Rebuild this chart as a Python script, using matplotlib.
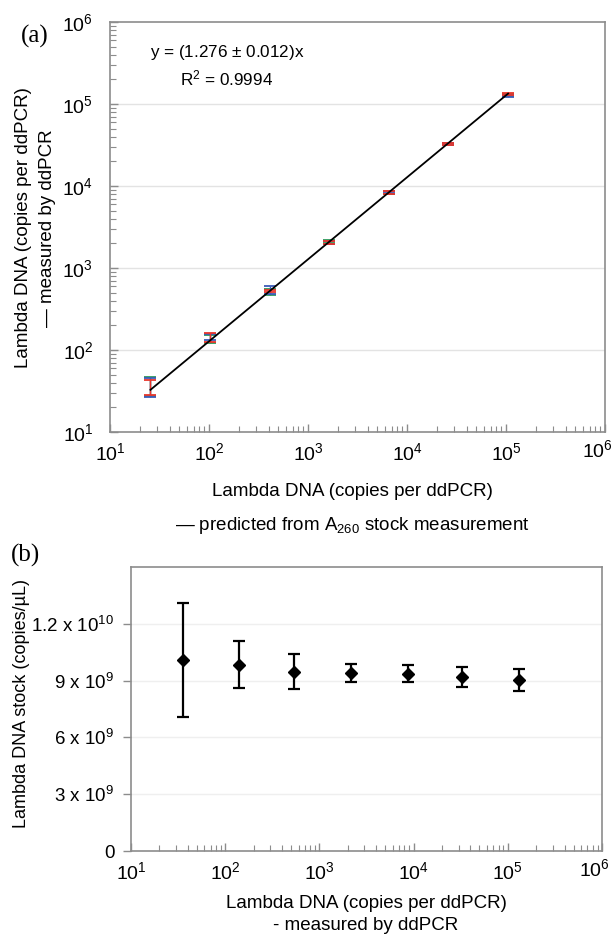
import numpy as np
import matplotlib
matplotlib.use("Agg")
import matplotlib.pyplot as plt
import matplotlib.transforms as mtrans
from matplotlib.ticker import LogLocator, NullFormatter, FixedLocator, FixedFormatter, FuncFormatter

plt.rcParams['font.family'] = ['Liberation Sans', 'DejaVu Sans']
plt.rcParams['mathtext.fontset'] = 'custom'
plt.rcParams['mathtext.rm'] = 'Liberation Sans'
plt.rcParams['mathtext.it'] = 'Liberation Sans:italic'

# ---------------- Panel (a) data ----------------
x_pred = np.array([25.6, 102.5, 410, 1640, 6560, 26250, 105000])
red_y = np.array([36, 142, 522, 2050, 8350, 32800, 131000])
red_err = np.array([7.5, 18, 18, 110, 250, 900, 4000])
green_y = np.array([37, 136, 517, 2080, 8350, 32600, 128000])
green_err = np.array([9.7, 15, 44, 90, 250, 1000, 4000])
blue_y = np.array([36, 144, 540, 2060, 8400, 32500, 126000])
blue_err = np.array([9.4, 12, 62, 90, 250, 900, 4000])
fit_slope = 1.276

# ---------------- Panel (b) data ----------------
x_meas = np.array([35.7, 141, 542, 2190, 8700, 33000, 131000])
stock = np.array([10.09e9, 9.83e9, 9.46e9, 9.40e9, 9.35e9, 9.19e9, 9.03e9])
stock_err = np.array([3.0e9, 1.24e9, 0.93e9, 0.50e9, 0.45e9, 0.55e9, 0.60e9])
b_yticks = [0, 3e9, 6e9, 9e9, 1.2e10]
b_yticklabels = ['0', r'3 x 10$^{9}$', r'6 x 10$^{9}$', r'9 x 10$^{9}$', r'1.2 x 10$^{10}$']

W, H = 615, 934
fig = plt.figure(figsize=(W/100, H/100), dpi=100)

spine_col = '#8c8c8c'

def fx(px):
    return px / W

def fy(py):
    return 1 - py / H

def dec_fmt(v, pos):
    e = int(round(np.log10(v)))
    if e >= 6:
        return ''
    return r'10$^{%d}$' % e

def last_xlabel(ax, pad_px, size):
    tr = mtrans.blended_transform_factory(ax.transData, ax.transAxes)
    tr = tr + mtrans.ScaledTranslation(8/100, -pad_px/100, fig.dpi_scale_trans)
    ax.text(1e6, 0, r'10$^{6}$', transform=tr, ha='right', va='top', fontsize=size,
            clip_on=False)

# ---------------- Panel (a) ----------------
axa = fig.add_axes([fx(110), fy(432), fx(605) - fx(110), fy(22) - fy(432)])
axa.set_xscale('log')
axa.set_yscale('log')
axa.set_xlim(10, 1e6)
axa.set_ylim(10, 1e6)

for yv in [1e2, 1e3, 1e4, 1e5]:
    axa.axhline(yv, color='#e3e3e3', lw=1.0, zorder=0)

for yv, ev, col in [(green_y, green_err, '#2e9a5c'),
                    (blue_y, blue_err, '#3b5cb8'),
                    (red_y, red_err, '#e8352b')]:
    axa.errorbar(x_pred, yv, yerr=ev, fmt='none', ecolor=col, elinewidth=1.0,
                 capsize=4, capthick=1.3, zorder=2)

xf = x_pred[[0, -1]]
axa.plot(xf, fit_slope * xf, color='black', lw=1.3, zorder=3)

for s in axa.spines.values():
    s.set_color(spine_col)
    s.set_linewidth(1.2)

axa.xaxis.set_major_locator(LogLocator(base=10, numticks=10))
axa.yaxis.set_major_locator(LogLocator(base=10, numticks=10))
axa.xaxis.set_major_formatter(FuncFormatter(dec_fmt))
axa.xaxis.set_minor_locator(LogLocator(base=10, subs=np.arange(2, 10), numticks=20))
axa.yaxis.set_minor_locator(LogLocator(base=10, subs=np.arange(2, 10), numticks=20))
axa.xaxis.set_minor_formatter(NullFormatter())
axa.yaxis.set_minor_formatter(NullFormatter())
axa.tick_params(which='both', direction='in', color=spine_col, top=False, right=False)
axa.tick_params(which='major', length=6, width=1)
axa.tick_params(which='minor', length=4, width=0.8)
axa.tick_params(axis='x', which='major', labelsize=14, pad=7)
axa.tick_params(axis='y', which='major', labelsize=14, pad=12)
last_xlabel(axa, 7, 14)

axa.text(0.081, 0.925, r'y = (1.276 $\pm$ 0.012)x', transform=axa.transAxes,
         fontsize=12.3, ha='left', va='center')
axa.text(0.236, 0.863, r'R$^{2}$ = 0.9994', transform=axa.transAxes,
         fontsize=12.3, ha='center', va='center')

fig.text(fx(35), fy(36), '(a)', family=['Liberation Serif', 'DejaVu Serif'],
         fontsize=18, ha='center', va='center')

fig.text(fx(24), fy(228), 'Lambda DNA (copies per ddPCR)', rotation=90,
         fontsize=13.5, ha='center', va='center')
fig.text(fx(48), fy(228), '— measured by ddPCR', rotation=90,
         fontsize=13.5, ha='center', va='center')
fig.text(fx(352), fy(492), 'Lambda DNA (copies per ddPCR)',
         fontsize=13.5, ha='center', va='center')
fig.text(fx(352), fy(525), r'— predicted from A$_{260}$ stock measurement',
         fontsize=13.5, ha='center', va='center')

# ---------------- Panel (b) ----------------
axb = fig.add_axes([fx(131), fy(851), fx(602) - fx(131), fy(567) - fy(851)])
axb.set_xscale('log')
axb.set_xlim(10, 1e6)
axb.set_ylim(0, 1.5e10)

for yv in b_yticks[1:]:
    axb.axhline(yv, color='#efefef', lw=1.0, zorder=0)

axb.errorbar(x_meas, stock, yerr=stock_err, fmt='D', color='black', ms=6.5,
             ecolor='black', elinewidth=1.6, capsize=4, capthick=1.6, zorder=3)

for s in axb.spines.values():
    s.set_color(spine_col)
    s.set_linewidth(1.2)

axb.yaxis.set_major_locator(FixedLocator(b_yticks))
axb.yaxis.set_major_formatter(FixedFormatter(b_yticklabels))
axb.xaxis.set_major_locator(LogLocator(base=10, numticks=10))
axb.xaxis.set_major_formatter(FuncFormatter(dec_fmt))
axb.xaxis.set_minor_locator(LogLocator(base=10, subs=np.arange(2, 10), numticks=20))
axb.xaxis.set_minor_formatter(NullFormatter())
axb.tick_params(axis='x', which='both', direction='in', color=spine_col, top=False)
axb.tick_params(axis='x', which='major', length=6, width=1, labelsize=14, pad=7)
axb.tick_params(axis='x', which='minor', length=4, width=0.8)
axb.tick_params(axis='y', which='major', direction='out', length=6, width=1,
                color=spine_col, labelsize=13.5, pad=6)
last_xlabel(axb, 7, 14)

fig.text(fx(25), fy(555), '(b)', family=['Liberation Serif', 'DejaVu Serif'],
         fontsize=18, ha='center', va='center')
fig.text(fx(22), fy(703), 'Lambda DNA stock (copies/µL)', rotation=90,
         fontsize=13, ha='center', va='center')
fig.text(fx(366), fy(903), 'Lambda DNA (copies per ddPCR)',
         fontsize=13.5, ha='center', va='center')
fig.text(fx(366), fy(926), '- measured by ddPCR',
         fontsize=13.5, ha='center', va='center')

fig.savefig('out.png', dpi=100)
